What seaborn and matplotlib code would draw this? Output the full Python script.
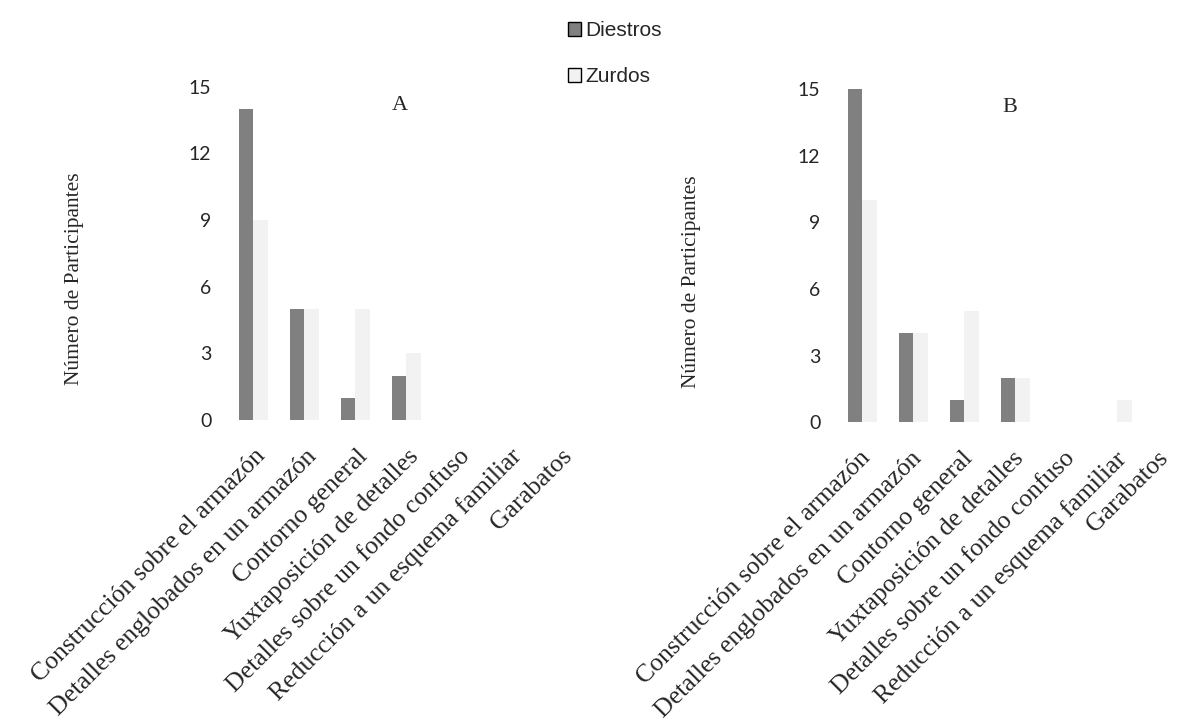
import matplotlib
matplotlib.use("Agg")
import matplotlib.pyplot as plt
import matplotlib.transforms as mtransforms
import seaborn as sns
import pandas as pd
from matplotlib.patches import Patch

categories = ["Construcción sobre el armazón", "Detalles englobados en un armazón",
              "Contorno general", "Yuxtaposición de detalles",
              "Detalles sobre un fondo confuso", "Reducción a un esquema familiar",
              "Garabatos"]
series = ["Diestros", "Zurdos"]
a_diestros = [14, 5, 1, 2, 0, 0, 0]
a_zurdos = [9, 5, 5, 3, 0, 0, 0]
b_diestros = [15, 4, 1, 2, 0, 0, 0]
b_zurdos = [10, 4, 5, 2, 0, 1, 0]
yticks = [0, 3, 6, 9, 12, 15]
colors = ["#808080", "#f2f2f2"]

sns.set_style("white")
serif = "Liberation Serif"
sans = "Liberation Sans"
tickfont = "Lato"

fig = plt.figure(figsize=(11.78, 7.23), dpi=100)

def panel(rect, d, z, title, ylab_x, xoff, last_off):
    ax = fig.add_axes(rect)
    df = pd.DataFrame({
        "cat": categories * 2,
        "grupo": [series[0]] * len(categories) + [series[1]] * len(categories),
        "n": d + z,
    })
    sns.barplot(data=df, x="cat", y="n", hue="grupo", order=categories,
                hue_order=series, palette=colors, width=0.57, ax=ax,
                legend=False, saturation=1, edgecolor="none")
    ax.set_ylim(0, 15)
    ax.set_yticks(yticks)
    ax.set_yticklabels([str(t) for t in yticks], family=tickfont, fontsize=14)
    ax.tick_params(axis="both", length=0)
    ax.tick_params(axis="y", pad=12)
    ax.set_xticks(range(len(categories)))
    ax.set_xticklabels([])
    base = mtransforms.blended_transform_factory(ax.transData, ax.transAxes)
    for i, cat in enumerate(categories):
        dx = last_off if i == len(categories) - 1 else xoff
        off = mtransforms.ScaledTranslation(dx / 100, -25 / 100, fig.dpi_scale_trans)
        ax.text(i, 0, cat, transform=base + off, rotation=45, ha="right", va="top",
                rotation_mode="anchor", family=serif, fontsize=18.5, clip_on=False)
    ax.set_xlabel("")
    ax.set_ylabel("Número de Participantes", family=serif, fontsize=15.5)
    ax.yaxis.set_label_coords(ylab_x, 0.423)
    for s in ax.spines.values():
        s.set_visible(False)
    ax.text(0.483, 0.945, title, transform=ax.transAxes, family=serif, fontsize=16,
            ha="center", va="center")
    return ax

panel([0.1935, 0.419, 0.303, 0.461], a_diestros, a_zurdos, "A", -0.403, 1, 1)
panel([0.7105, 0.416, 0.303, 0.461], b_diestros, b_zurdos, "B", -0.381, -3, -12)

handles = [Patch(facecolor=c, edgecolor="black", linewidth=1) for c in colors]
fig.legend(handles, series, loc="upper center", bbox_to_anchor=(0.522, 0.997),
           frameon=False, prop={"family": sans, "size": 15},
           handlelength=0.65, handleheight=0.65, handletextpad=0.2, labelspacing=1.3)

fig.savefig("out.png", dpi=100)
